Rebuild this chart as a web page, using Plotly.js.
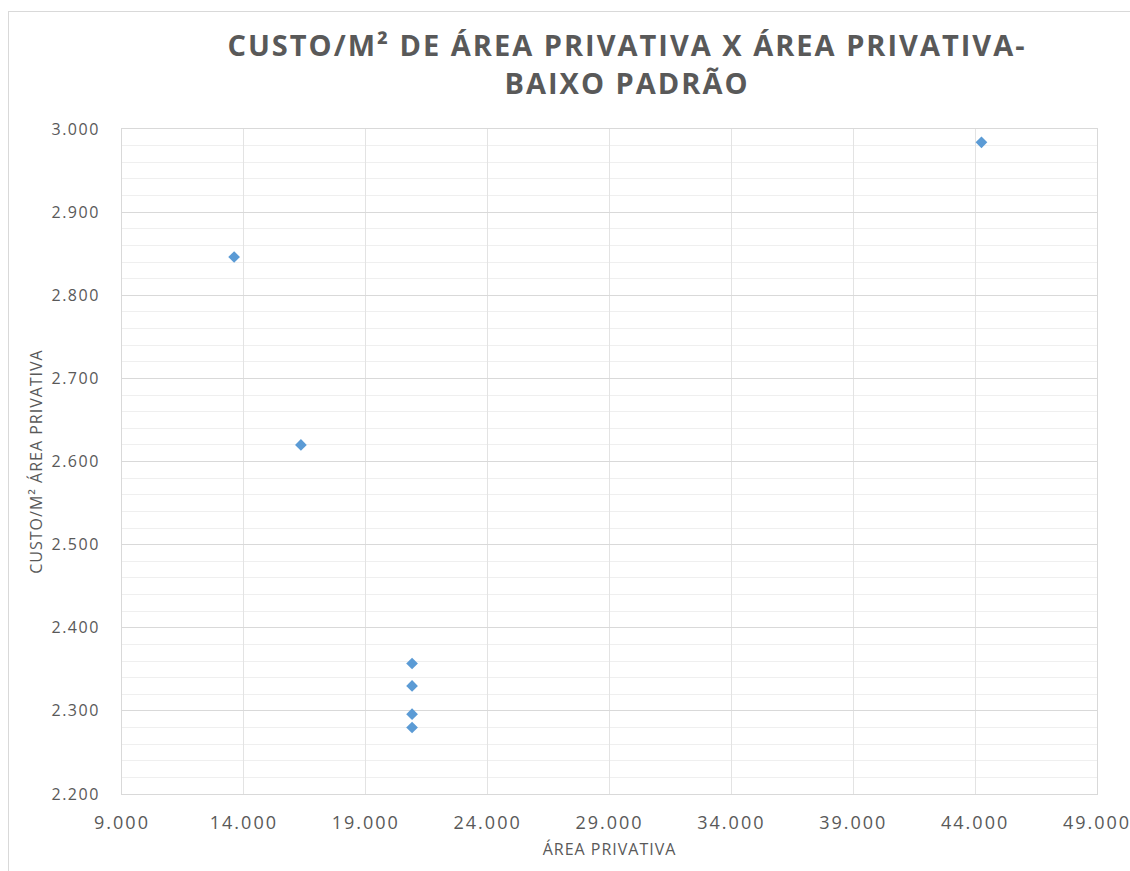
<!DOCTYPE html>
<html>
<head>
<meta charset="utf-8">
<script src="https://cdn.plot.ly/plotly-3.0.1.min.js"></script>
<style>
  html, body { margin: 0; padding: 0; background: #ffffff; }
  #wrap { position: relative; width: 1130px; height: 871px; }
  #frame { position: absolute; left: 8px; top: 11px; width: 1200px; height: 900px;
           border-left: 1px solid #d9d9d9; border-top: 1px solid #d9d9d9; }
  #chart { position: absolute; left: 0; top: 0; width: 1130px; height: 871px; }
  .xtick text { letter-spacing: 2px; }
  .ytick text { letter-spacing: 1.5px; }
  .gtitle { letter-spacing: 2px; }
  .g-xtitle text, .g-ytitle text { letter-spacing: 1px; }
</style>
</head>
<body>
<div id="wrap">
  <div id="frame"></div>
  <div id="chart"></div>
</div>
<script>
// Área privativa (m²) and custo por m² de área privativa
const areaPrivativa = [44260, 13600, 16340, 20900, 20900, 20900, 20900];
const custoM2 = [2984, 2846, 2620, 2357, 2330, 2296, 2280];

const xTicks = [9000, 14000, 19000, 24000, 29000, 34000, 39000, 44000, 49000];
const yTicks = [2200, 2300, 2400, 2500, 2600, 2700, 2800, 2900, 3000];

const textGray = '#595959';

const trace = {
  type: 'scatter',
  mode: 'markers',
  x: areaPrivativa,
  y: custoM2,
  marker: { symbol: 'diamond', size: 9, color: '#5b9bd5', line: { width: 0 } },
  hoverinfo: 'x+y'
};

const layout = {
  width: 1130,
  height: 871,
  paper_bgcolor: 'rgba(0,0,0,0)',
  plot_bgcolor: 'rgba(0,0,0,0)',
  separators: ',.',
  showlegend: false,
  margin: { l: 122, r: 33, t: 129, b: 77 },
  font: { family: 'Open Sans, sans-serif', color: textGray },
  title: {
    text: '<b>CUSTO/M² DE ÁREA PRIVATIVA X ÁREA PRIVATIVA-<br>BAIXO PADRÃO</b>',
    font: { family: 'Open Sans, sans-serif', size: 29, color: textGray },
    x: 627 / 1130,
    xanchor: 'center',
    xref: 'container',
    yref: 'container',
    y: 1 - 56 / 871,
    yanchor: 'top'
  },
  xaxis: {
    range: [9000, 49000],
    tickvals: xTicks,
    tickformat: ',.0f',
    tickfont: { size: 18, color: textGray },
    ticks: '',
    ticklabelstandoff: 12,
    ticklabeloverflow: 'allow',
    showgrid: true,
    gridcolor: '#e3e3e3',
    gridwidth: 1,
    zeroline: false,
    showline: true,
    mirror: true,
    linecolor: '#d9d9d9',
    linewidth: 1,
    title: {
      text: 'ÁREA PRIVATIVA',
      font: { size: 16, color: textGray },
      standoff: 11
    }
  },
  yaxis: {
    range: [2200, 3000],
    tickvals: yTicks,
    tickformat: ',.0f',
    tickfont: { size: 16, color: textGray },
    ticks: '',
    ticklabelstandoff: 18,
    showgrid: true,
    gridcolor: '#d9d9d9',
    gridwidth: 1,
    minor: { dtick: 20, showgrid: true, gridcolor: '#efefef', gridwidth: 1, ticks: '' },
    zeroline: false,
    showline: true,
    mirror: true,
    linecolor: '#d9d9d9',
    linewidth: 1,
    title: {
      text: 'CUSTO/M² ÁREA PRIVATIVA',
      font: { size: 16, color: textGray },
      standoff: 4
    }
  }
};

Plotly.newPlot('chart', [trace], layout, { displayModeBar: false, staticPlot: true });
</script>
</body>
</html>
